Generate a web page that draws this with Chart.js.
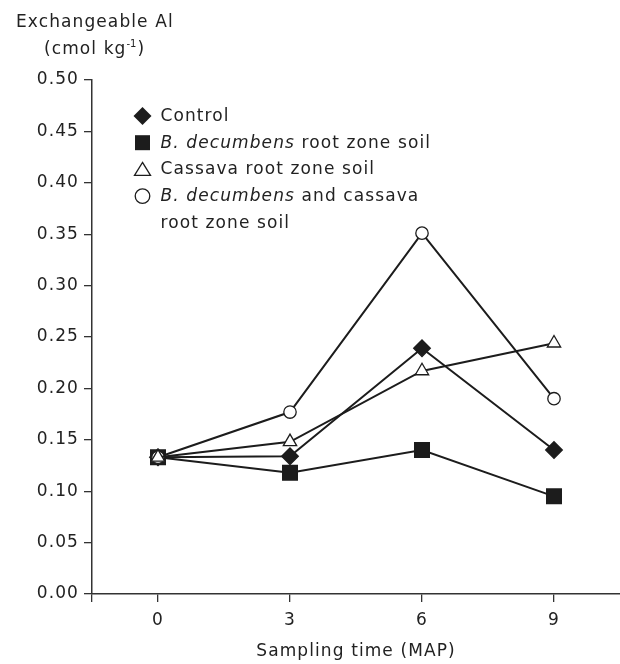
<!DOCTYPE html>
<html>
<head>
<meta charset="utf-8">
<script src="https://cdn.jsdelivr.net/npm/chart.js@4.4.1/dist/chart.umd.min.js"></script>
<style>
  html, body { margin: 0; padding: 0; background: #fff; }
  #wrap { width: 620px; height: 664px; }
</style>
</head>
<body>
<div id="wrap"><canvas id="alchart" width="620" height="664"></canvas></div>
<script>
// sampling time, months after planting
const months = [0, 3, 6, 9];
const xTicks = [0, 3, 6, 9];

// exchangeable Al (cmol kg-1)
const control = [0.133, 0.134, 0.239, 0.140];
const bDecumbens = [0.133, 0.118, 0.140, 0.095];
const cassava = [0.133, 0.148, 0.217, 0.244];
const bDecCassava = [0.133, 0.177, 0.351, 0.190];

const ink = "#1c1c1c";
const font = "'DejaVu Sans', sans-serif";
const gap = "1.1px";

function pts(vals) {
    return months.map((m, i) => ({ x: m, y: vals[i] }));
}

function lineSet(label, vals, style, radius, fill, order) {
    return {
        label: label,
        data: pts(vals),
        borderColor: ink,
        borderWidth: 2,
        pointStyle: style,
        pointRadius: radius,
        pointHoverRadius: radius,
        pointBackgroundColor: fill,
        pointBorderColor: ink,
        pointBorderWidth: 1.3,
        tension: 0,
        order: order,
    };
}

// letter spacing for all canvas text
const spacing = {
    id: "spacing",
    beforeLayout(chart) { chart.ctx.letterSpacing = gap; },
    beforeDraw(chart) { chart.ctx.letterSpacing = gap; },
};

function marker(ctx, kind, x, y) {
    ctx.save();
    ctx.lineWidth = 1.3;
    ctx.strokeStyle = ink;
    ctx.beginPath();
    if (kind === "diamond") {
        ctx.moveTo(x, y - 9); ctx.lineTo(x + 9, y); ctx.lineTo(x, y + 9); ctx.lineTo(x - 9, y);
        ctx.closePath();
        ctx.fillStyle = ink; ctx.fill();
    } else if (kind === "square") {
        ctx.rect(x - 7.5, y - 7.5, 15, 15);
        ctx.fillStyle = ink; ctx.fill();
    } else if (kind === "triangle") {
        ctx.moveTo(x, y - 7); ctx.lineTo(x + 8, y + 6); ctx.lineTo(x - 8, y + 6);
        ctx.closePath();
        ctx.fillStyle = "#fff"; ctx.fill(); ctx.stroke();
    } else {
        ctx.arc(x, y, 7.3, 0, Math.PI * 2);
        ctx.fillStyle = "#fff"; ctx.fill(); ctx.stroke();
    }
    ctx.restore();
}

function runs(ctx, parts, x, y) {
    parts.forEach(p => {
        ctx.font = (p.it ? "italic " : "") + "17px " + font;
        ctx.fillText(p.t, x, y);
        x += ctx.measureText(p.t).width;
    });
}

const legendRows = [
    { kind: "diamond", parts: [{ t: "Control" }] },
    { kind: "square", parts: [{ t: "B. decumbens", it: true }, { t: " root zone soil" }] },
    { kind: "triangle", parts: [{ t: "Cassava root zone soil" }] },
    { kind: "circle", parts: [{ t: "B. decumbens", it: true }, { t: " and cassava" }] },
    { kind: null, parts: [{ t: "root zone soil" }] },
];

const annotate = {
    id: "annotate",
    afterDraw(chart) {
        const ctx = chart.ctx;
        ctx.save();
        ctx.letterSpacing = gap;
        ctx.fillStyle = "#222";
        ctx.textBaseline = "middle";
        ctx.textAlign = "left";

        // y axis title
        ctx.font = "17px " + font;
        ctx.fillText("Exchangeable Al", 16, 23);
        let x = 44;
        ctx.fillText("(cmol kg", x, 50);
        x += ctx.measureText("(cmol kg").width;
        ctx.font = "10px " + font;
        ctx.letterSpacing = "0px";
        ctx.fillText("-1", x, 44);
        x += ctx.measureText("-1").width + 1;
        ctx.letterSpacing = gap;
        ctx.font = "17px " + font;
        ctx.fillText(")", x, 50);

        // legend
        legendRows.forEach((row, i) => {
            const y = 116 + i * 26.7;
            if (row.kind) marker(ctx, row.kind, 142.5, y);
            runs(ctx, row.parts, 160.5, y + 0.5);
        });
        ctx.restore();
    },
};

new Chart(document.getElementById("alchart"), {
    type: "line",
    data: {
        datasets: [
            lineSet("Control", control, "rectRot", 8.3, ink, 4),
            lineSet("B. decumbens root zone soil", bDecumbens, "rect", 10.4, ink, 3),
            lineSet("Cassava root zone soil", cassava, "triangle", 7.7, "#fff", 1),
            lineSet("B. decumbens and cassava root zone soil", bDecCassava, "circle", 6.2, "#fff", 2),
        ],
    },
    options: {
        responsive: false,
        animation: false,
        devicePixelRatio: 1,
        layout: { autoPadding: false, padding: { top: 80, left: 0, right: 0, bottom: 0 } },
        plugins: {
            legend: { display: false },
            tooltip: { enabled: false },
        },
        scales: {
            x: {
                type: "linear",
                min: -1.5,
                max: 10.5,
                afterBuildTicks: (s) => {
                    s.ticks = [-1.5].concat(xTicks).map(v => ({ value: v }));
                },
                afterFit: (s) => {
                    s.height = 70;
                    s.paddingLeft = 0;
                    s.paddingRight = 0;
                },
                ticks: {
                    callback: (v) => (xTicks.includes(v) ? String(v) : ""),
                    color: "#222",
                    font: { family: font, size: 17 },
                    padding: 8,
                    maxRotation: 0,
                    autoSkip: false,
                },
                grid: { drawOnChartArea: false, drawTicks: true, tickLength: 8, color: "#333", lineWidth: 1.3 },
                border: { display: true, color: "#333", width: 1.5 },
                title: {
                    display: true,
                    text: "Sampling time (MAP)",
                    color: "#222",
                    font: { family: font, size: 17 },
                    padding: { top: 4, bottom: 2 },
                },
            },
            y: {
                min: 0,
                max: 0.5,
                afterFit: (s) => { s.width = 92; },
                ticks: {
                    stepSize: 0.05,
                    callback: (v) => v.toFixed(2),
                    color: "#222",
                    font: { family: font, size: 17 },
                    padding: 5,
                },
                grid: { drawOnChartArea: false, drawTicks: true, tickLength: 8, color: "#333", lineWidth: 1.3 },
                border: { display: true, color: "#333", width: 1.5 },
            },
        },
    },
    plugins: [spacing, annotate],
});
</script>
</body>
</html>
